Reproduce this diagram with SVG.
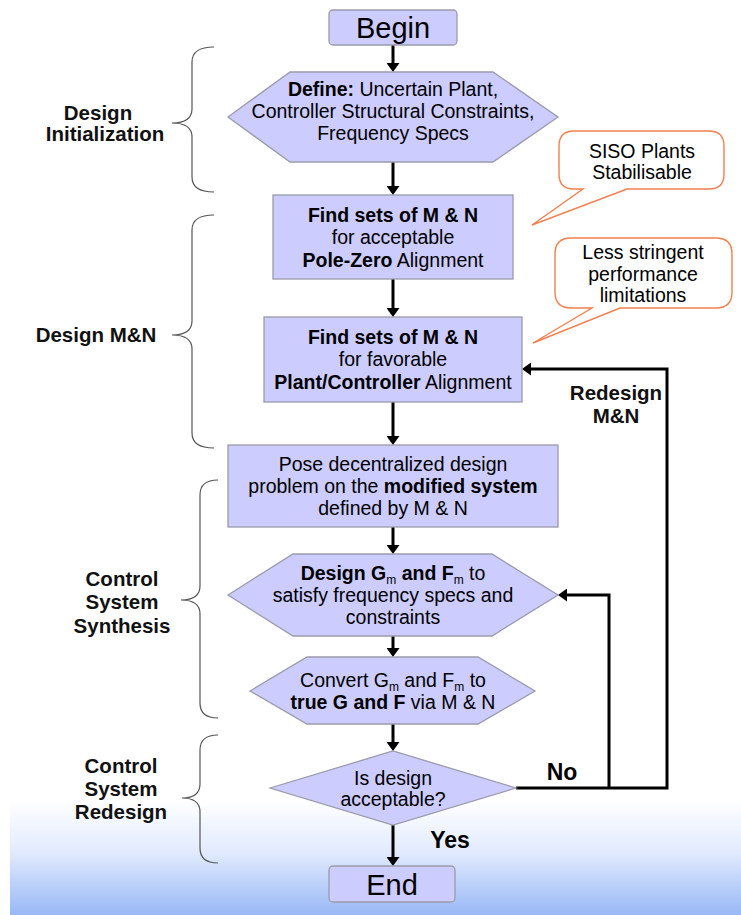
<svg xmlns="http://www.w3.org/2000/svg" width="741" height="915" viewBox="0 0 741 915">
<defs>
<linearGradient id="bg" x1="0" y1="0" x2="0" y2="1">
<stop offset="0" stop-color="#ffffff"/>
<stop offset="0.45" stop-color="#e2ebfd"/>
<stop offset="1" stop-color="#98b8f6"/>
</linearGradient>
<marker id="ah" markerUnits="userSpaceOnUse" markerWidth="10" markerHeight="13" refX="1" refY="6.5" orient="auto">
<path d="M0,0 L9,6.5 L0,13 z" fill="#000"/>
</marker>
<style>
text{font-family:"Liberation Sans",Arial,sans-serif;fill:#000}
.n{fill:#ccccff;stroke:#9a9aaa;stroke-width:1.3}
.t{font-size:19.5px;text-anchor:middle}
.big{font-size:29px;text-anchor:middle}
.b{font-weight:bold}
.lbl{font-size:20.5px;font-weight:bold;text-anchor:middle;fill:#111}
.yn{font-size:23px;font-weight:bold;text-anchor:middle}
.co{fill:#fff;stroke:#f47f4f;stroke-width:1.4}
.br{fill:none;stroke:#555;stroke-width:1.2}
.c{fill:none;stroke:#000;stroke-width:3;stroke-linejoin:miter}
.sub{font-size:12px}
</style>
</defs>
<rect x="10" y="800" width="731" height="115" fill="url(#bg)"/>

<g id="braces">
<path class="br" d="M214,47 Q192,47 192,62 L192,109 Q192,123 172,123 Q192,123 192,137 L192,177 Q192,192 214,192"/>
<path class="br" d="M214,215 Q192,215 192,230 L192,321 Q192,335 172,335 Q192,335 192,349 L192,433 Q192,448 214,448"/>
<path class="br" d="M218,480 Q200,480 200,495 L200,586 Q200,600 181,600 Q200,600 200,614 L200,703 Q200,718 218,718"/>
<path class="br" d="M218,735 Q200,735 200,750 L200,784 Q200,798 182,798 Q200,798 200,812 L200,848 Q200,863 218,863"/>
</g>
<g id="labels">
<text class="lbl" x="98" y="120">Design</text>
<text class="lbl" x="105" y="141">Initialization</text>
<text class="lbl" x="96" y="342">Design M&amp;N</text>
<text class="lbl" x="122" y="586">Control</text>
<text class="lbl" x="122" y="609">System</text>
<text class="lbl" x="122" y="633">Synthesis</text>
<text class="lbl" x="121" y="773">Control</text>
<text class="lbl" x="121" y="796">System</text>
<text class="lbl" x="121" y="819">Redesign</text>
</g>

<g id="connectors">
<line class="c" x1="393" y1="45" x2="393" y2="64" marker-end="url(#ah)"/>
<line class="c" x1="393" y1="162" x2="393" y2="187" marker-end="url(#ah)"/>
<line class="c" x1="393" y1="279" x2="393" y2="309" marker-end="url(#ah)"/>
<line class="c" x1="393" y1="402" x2="393" y2="437" marker-end="url(#ah)"/>
<line class="c" x1="393" y1="527" x2="393" y2="546" marker-end="url(#ah)"/>
<line class="c" x1="393" y1="636" x2="393" y2="649" marker-end="url(#ah)"/>
<line class="c" x1="393" y1="724" x2="393" y2="743" marker-end="url(#ah)"/>
<line class="c" x1="393" y1="825" x2="393" y2="858" marker-end="url(#ah)"/>
<path class="c" d="M516,788 L667,788 L667,369 L530,369" marker-end="url(#ah)"/>
<path class="c" d="M609,788 L609,595 L566,595" marker-end="url(#ah)"/>
<text class="yn" x="562" y="780">No</text>
<text class="yn" x="450" y="848">Yes</text>
<text class="lbl" x="616" y="400">Redesign</text>
<text class="lbl" x="616" y="423">M&amp;N</text>
</g>

<g id="begin">
<rect class="n" x="329" y="10" width="128" height="35" rx="4"/>
<text class="big" x="393" y="38">Begin</text>
</g>
<g id="define">
<polygon class="n" points="228,117 290,72 493,72 558,117 493,162 290,162"/>
<text class="t" x="393" y="96"><tspan class="b">Define:</tspan> Uncertain Plant,</text>
<text class="t" x="393" y="118">Controller Structural Constraints,</text>
<text class="t" x="393" y="140">Frequency Specs</text>
</g>
<g id="pole-zero">
<rect class="n" x="273" y="195" width="240" height="84"/>
<text class="t b" x="393" y="222">Find sets of M &amp; N</text>
<text class="t" x="393" y="244">for acceptable</text>
<text class="t" x="393" y="267"><tspan class="b">Pole-Zero</tspan> Alignment</text>
</g>
<g id="plant-controller">
<rect class="n" x="264" y="317" width="258" height="85"/>
<text class="t b" x="393" y="344">Find sets of M &amp; N</text>
<text class="t" x="393" y="366">for favorable</text>
<text class="t" x="393" y="389"><tspan class="b">Plant/Controller</tspan> Alignment</text>
</g>
<g id="pose">
<rect class="n" x="228" y="445" width="330" height="82"/>
<text class="t" x="393" y="471">Pose decentralized design</text>
<text class="t" x="393" y="493">problem on the <tspan class="b">modified system</tspan></text>
<text class="t" x="393" y="515">defined by M &amp; N</text>
</g>
<g id="design-gf">
<polygon class="n" points="228,595 293,554 492,554 558,595 492,636 293,636"/>
<text class="t" x="393" y="580"><tspan class="b">Design G</tspan><tspan class="sub" dy="4">m</tspan><tspan class="b" dy="-4"> and F</tspan><tspan class="sub" dy="4">m</tspan><tspan dy="-4"> to</tspan></text>
<text class="t" x="393" y="602">satisfy frequency specs and</text>
<text class="t" x="393" y="624">constraints</text>
</g>
<g id="convert">
<polygon class="n" points="250,691 307,657 478,657 535,691 478,724 307,724"/>
<text class="t" x="393" y="687">Convert G<tspan class="sub" dy="4">m</tspan><tspan dy="-4"> and F</tspan><tspan class="sub" dy="4">m</tspan><tspan dy="-4"> to</tspan></text>
<text class="t" x="393" y="709"><tspan class="b">true G and F</tspan> via M &amp; N</text>
</g>
<g id="decision">
<polygon class="n" points="270,788 393,751 516,788 393,825"/>
<text class="t" x="393" y="785">Is design</text>
<text class="t" x="393" y="806">acceptable?</text>
</g>
<g id="end">
<rect class="n" x="329" y="866" width="126" height="36" rx="4"/>
<text class="big" x="392" y="895">End</text>
</g>
<g id="callout-siso">
<path class="co" d="M574,131 L709,131 Q724,131 724,146 L724,174 Q724,189 709,189 L627,189 L532,225 L583,189 L574,189 Q559,189 559,174 L559,146 Q559,131 574,131 Z"/>
<text class="t" x="642" y="158">SISO Plants</text>
<text class="t" x="642" y="179">Stabilisable</text>
</g>
<g id="callout-less">
<path class="co" d="M571,238 L716,238 Q732,238 732,254 L732,292 Q732,308 716,308 L620,308 L533,343 L592,308 L571,308 Q555,308 555,292 L555,254 Q555,238 571,238 Z"/>
<text class="t" x="643" y="259">Less stringent</text>
<text class="t" x="643" y="281">performance</text>
<text class="t" x="643" y="302">limitations</text>
</g>
</svg>
